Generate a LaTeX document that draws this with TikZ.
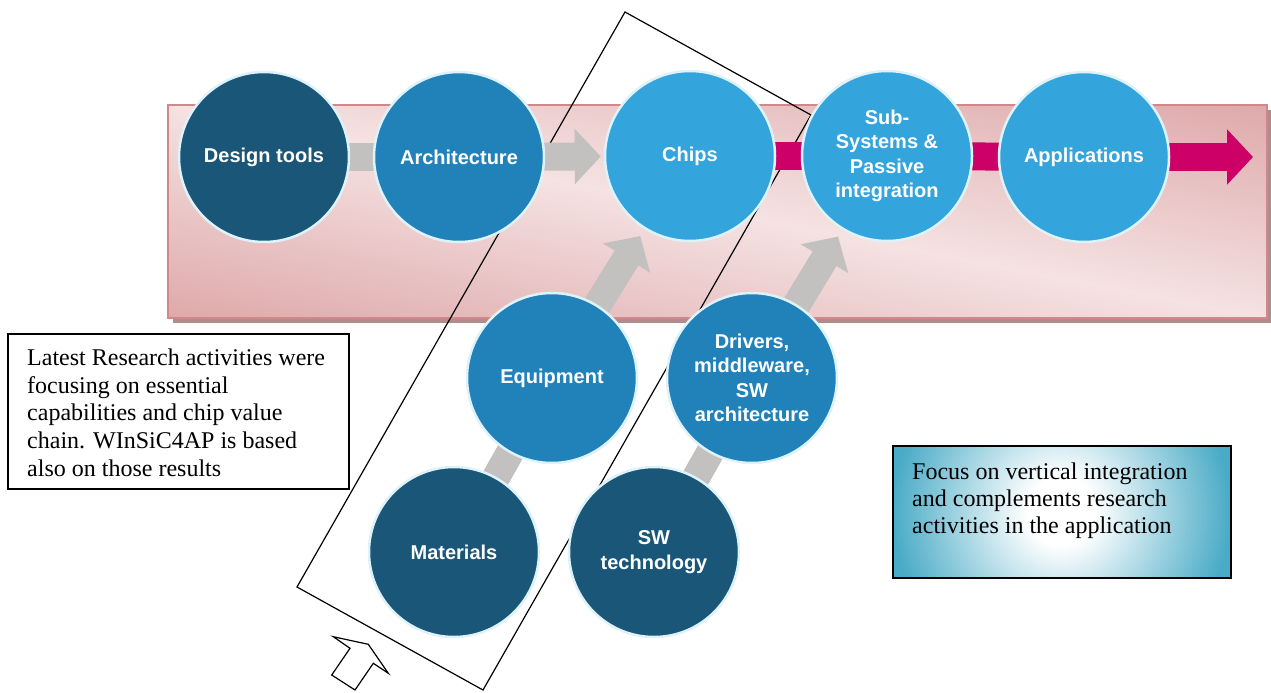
\documentclass[tikz,border=0pt]{standalone}
\usepackage{fontspec}
\setmainfont{Liberation Serif}
\setsansfont{Liberation Sans}
\usetikzlibrary{arrows.meta}
\definecolor{cdark}{RGB}{26,86,120}
\definecolor{cmed}{RGB}{33,130,186}
\definecolor{clight}{RGB}{52,164,220}
\definecolor{cedge}{RGB}{222,242,250}
\definecolor{cgray}{RGB}{195,192,192}
\definecolor{cmag}{RGB}{204,0,102}
\definecolor{bandD}{RGB}{214,148,150}
\definecolor{bandL}{RGB}{245,226,226}
\definecolor{bandEdge}{RGB}{208,136,138}
\definecolor{bandShadow}{RGB}{178,140,140}
\definecolor{cteal}{RGB}{74,171,198}
\pgfdeclareverticalshading{bandshade}{100bp}{color(0bp)=(bandD); color(38bp)=(bandD); color(50bp)=(bandL); color(62bp)=(bandD); color(100bp)=(bandD)}
\pgfdeclareradialshading{boxshade}{\pgfpoint{0bp}{0bp}}{color(0bp)=(white); color(5bp)=(white); color(25bp)=(cteal); color(50bp)=(cteal)}
\pgfdeclarelayer{background}
\pgfsetlayers{background,main}
\tikzset{
  circbase/.style={circle, minimum size=170pt, inner sep=0pt, draw=cedge, line width=2.5pt,
    text=white, align=center, font=\sffamily\bfseries\fontsize{20}{24.4}\selectfont},
  circD/.style={circbase, fill=cdark},
  circM/.style={circbase, fill=cmed},
  circL/.style={circbase, fill=clight},
  graybar/.style={draw=cgray, line width=28pt},
  grayarrow/.style={draw=cgray, line width=28pt, -{Triangle[width=54pt,length=26pt]}},
  magbar/.style={draw=cmag, line width=28pt},
  magarrow/.style={draw=cmag, line width=28pt, -{Triangle[width=54pt,length=26pt]}},
  framestyle/.style={draw=black, line width=1.2pt, line join=miter},
  boxtext/.style={inner sep=0pt, align=left, font=\fontsize{24}{27.7}\selectfont, text=black},
}
\begin{document}
\begin{tikzpicture}[x=1pt,y=-1pt]
\path[use as bounding box] (0,0) rectangle (1271,693);

% circles
\node[circD] (design)  at (264,157) {Design tools};
\node[circM] (arch)    at (459,157) {Architecture};
\node[circL] (chips)   at (690,156) {Chips};
\node[circL] (sub)     at (887,156) {Sub-\\Systems \&\\Passive\\integration};
\node[circL] (apps)    at (1084,157) {Applications};
\node[circM] (equip)   at (552,378) {Equipment};
\node[circM] (drivers) at (752,378) {Drivers,\\middleware,\\SW\\architecture};
\node[circD] (mat)     at (454,552) {Materials};
\node[circD] (swt)     at (654,552) {SW\\technology};
\coordinate (appsend) at (1253,157);

\begin{pgfonlayer}{background}
  % band with shadow
  \fill[bandShadow] (173,110) rectangle (1271,323);
  \begin{scope}
    \clip (168,105) rectangle (1267,318);
    \shade[shading=bandshade, shading angle=-11] (117.5,-388.5) rectangle (1317.5,811.5);
  \end{scope}
  \draw[bandEdge, line width=1.5pt] (168,105) rectangle (1267,318);
  % tilted frame
  \coordinate (fT) at (625,12);
  \coordinate (fR) at (811,115);
  \coordinate (fB) at (483,690);
  \coordinate (fL) at (297,587);
  \draw[framestyle] (fT) -- (fR) -- (fB) -- (fL) -- cycle;
  % connectors
  \draw[graybar] (design.center) -- (arch.center);
  \draw[grayarrow, shorten >=3pt] (arch.center) -- (chips);
  \draw[magbar] (chips.center) -- (sub.center);
  \draw[magbar] (sub.center) -- (apps.center);
  \draw[magarrow] (apps.center) -- (appsend);
  \draw[graybar] (mat.center) -- (equip.center);
  \draw[graybar] (swt.center) -- (drivers.center);
  \draw[grayarrow, shorten >=8pt] (equip.center) -- (chips);
  \draw[grayarrow, shorten >=8pt] (drivers.center) -- (sub);
\end{pgfonlayer}

% left text box
\node[draw=black, line width=1.5pt, fill=white, minimum width=341pt, minimum height=155pt,
      inner sep=0pt, anchor=north west] (lbox) at (7,333) {};
\node[boxtext, anchor=north west] (ltxt) at (27,348.6)
  {Latest Research activities were\\focusing on essential\\capabilities and chip value\\chain. WInSiC4AP is based\\also on those results};

% right gradient box
\begin{scope}
  \clip (892,445) rectangle (1230,577);
  \shade[shading=boxshade] (892,342) rectangle (1230,680);
\end{scope}
\node[draw=black, line width=1.5pt, minimum width=338pt, minimum height=132pt,
      inner sep=0pt, anchor=north west] (rbox) at (892,445) {};
\node[boxtext, anchor=north west, font=\fontsize{24}{27}\selectfont] (rtxt) at (912,462.6)
  {Focus on vertical integration\\and complements research\\activities in the application};

% hollow arrow below the frame
\draw[black, line width=1.2pt, fill=white, line join=miter]
  (333.3,636.7) -- (368.3,644.3) -- (388.3,673.3) -- (373.3,663.3) -- (355,690)
  -- (331.7,675) -- (350,648.3) -- cycle;
\end{tikzpicture}
\end{document}
